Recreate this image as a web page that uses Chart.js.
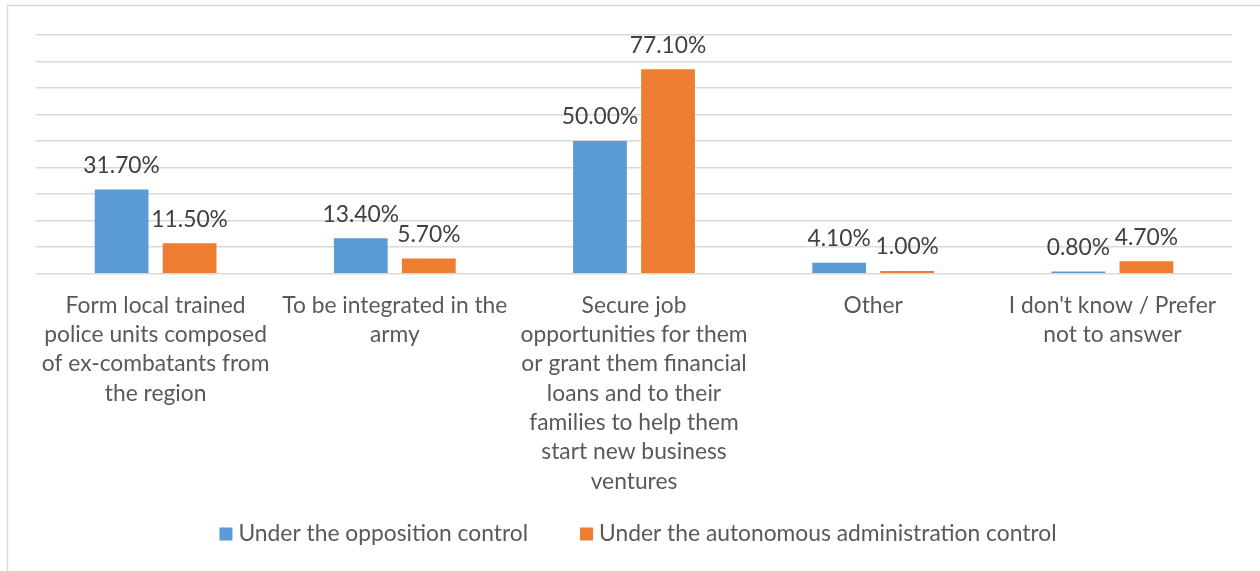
<!DOCTYPE html>
<html>
<head>
<meta charset="utf-8">
<script src="https://cdn.jsdelivr.net/npm/chart.js@4.4.1/dist/chart.umd.min.js"></script>
<style>
  html, body { margin: 0; padding: 0; background: #ffffff; }
  #wrap { width: 1260px; height: 571px; position: relative; }
  canvas { display: block; }
</style>
</head>
<body>
<div id="wrap"><canvas id="chart" width="1260" height="571"></canvas></div>
<script>
// Category labels (pre-wrapped lines)
const categories = [
  ['Form local trained', 'police units composed', 'of ex-combatants from', 'the region'],
  ['To be integrated in the', 'army'],
  ['Secure job', 'opportunities for them', 'or grant them financial', 'loans and to their', 'families to help them', 'start new business', 'ventures'],
  ['Other'],
  ["I don't know / Prefer", 'not to answer']
];

// Share of respondents (%)
const oppositionValues = [31.7, 13.4, 50.0, 4.1, 0.8];
const autonomousValues = [11.5, 5.7, 77.1, 1.0, 4.7];

const seriesNames = ['Under the opposition control', 'Under the autonomous administration control'];
const seriesColors = ['#5B9BD5', '#ED7D31'];

// Value axis range (gridline every 10%)
const yMin = 0;
const yMax = 90;
const yStep = 10;

const FONT = 'Lato, "Open Sans", "Liberation Sans", sans-serif';
const FONT_SIZE = 22.8;

// White page with a light frame along the top and left edges
const framePlugin = {
  id: 'frame',
  beforeDraw(chart) {
    const ctx = chart.ctx;
    ctx.save();
    ctx.fillStyle = '#ffffff';
    ctx.fillRect(0, 0, chart.width, chart.height);
    ctx.strokeStyle = '#D9D9D9';
    ctx.lineWidth = 1.5;
    ctx.beginPath();
    ctx.moveTo(7, 5.5);
    ctx.lineTo(chart.width, 5.5);
    ctx.moveTo(7.5, 5);
    ctx.lineTo(7.5, chart.height);
    ctx.stroke();
    ctx.restore();
  }
};

// Percentage labels above each bar
const valueLabelPlugin = {
  id: 'valueLabels',
  afterDatasetsDraw(chart) {
    const ctx = chart.ctx;
    ctx.save();
    ctx.font = FONT_SIZE + 'px ' + FONT;
    ctx.fillStyle = '#404040';
    ctx.textAlign = 'center';
    ctx.textBaseline = 'middle';
    chart.data.datasets.forEach((ds, di) => {
      const meta = chart.getDatasetMeta(di);
      meta.data.forEach((bar, i) => {
        const v = ds.data[i];
        ctx.fillText(v.toFixed(2) + '%', bar.x, bar.y - 24);
      });
    });
    ctx.restore();
  }
};

// Legend row beneath the category labels
const legendRowPlugin = {
  id: 'legendRow',
  afterDraw(chart) {
    const ctx = chart.ctx;
    const box = 13, gap = 6, spacing = 52;
    const y = 534;
    ctx.save();
    ctx.font = FONT_SIZE + 'px ' + FONT;
    ctx.textBaseline = 'middle';
    ctx.textAlign = 'left';
    const items = chart.data.datasets.map(ds => ({
      text: ds.label, color: ds.backgroundColor, w: ctx.measureText(ds.label).width
    }));
    let total = 0;
    items.forEach((it, i) => { total += box + gap + it.w + (i ? spacing : 0); });
    const ca = chart.chartArea;
    let x = (ca.left + ca.right) / 2 + 4 - total / 2;
    items.forEach((it, i) => {
      if (i) x += spacing;
      ctx.fillStyle = it.color;
      ctx.fillRect(x, y - box / 2, box, box);
      x += box + gap;
      ctx.fillStyle = '#595959';
      ctx.fillText(it.text, x, y);
      x += it.w;
    });
    ctx.restore();
  }
};

new Chart(document.getElementById('chart'), {
  type: 'bar',
  data: {
    labels: categories,
    datasets: [
      { label: seriesNames[0], data: oppositionValues, backgroundColor: seriesColors[0],
        categoryPercentage: 0.569, barPercentage: 0.79 },
      { label: seriesNames[1], data: autonomousValues, backgroundColor: seriesColors[1],
        categoryPercentage: 0.569, barPercentage: 0.79 }
    ]
  },
  options: {
    responsive: false,
    animation: false,
    devicePixelRatio: 1,
    layout: { padding: { left: 36, right: 28, top: 35, bottom: 0 } },
    plugins: {
      legend: { display: false },
      tooltip: { enabled: false },
      title: { display: false }
    },
    scales: {
      y: {
        min: yMin,
        max: yMax,
        ticks: { display: false, stepSize: yStep },
        grid: { color: '#D9D9D9', lineWidth: 1.5, drawTicks: false },
        border: { display: false }
      },
      x: {
        grid: { display: false, drawTicks: false },
        border: { display: false },
        ticks: {
          color: '#595959',
          padding: 17,
          maxRotation: 0,
          autoSkip: false,
          font: { family: FONT, size: FONT_SIZE, lineHeight: 29.3 / FONT_SIZE }
        },
        afterFit(scale) { scale.height = 571 - 273.7; }
      }
    }
  },
  plugins: [framePlugin, valueLabelPlugin, legendRowPlugin]
});
</script>
</body>
</html>
